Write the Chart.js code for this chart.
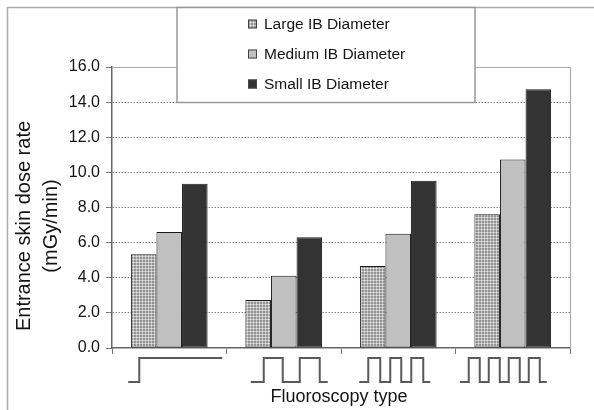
<!DOCTYPE html>
<html>
<head>
<meta charset="utf-8">
<script src="https://cdn.jsdelivr.net/npm/chart.js@4"></script>
<style>
  html, body { margin: 0; padding: 0; background: #fff; }
</style>
</head>
<body>
<canvas id="chart" width="594" height="410"></canvas>
<script>
// values (mGy/min)
const categories = ['Continuous', 'Pulsed x2', 'Pulsed x3', 'Pulsed x4'];
const seriesLabels = ['Large IB Diameter', 'Medium IB Diameter', 'Small IB Diameter'];
const largeIB = [5.34, 2.73, 4.67, 7.62];
const mediumIB = [6.61, 4.11, 6.51, 10.74];
const smallIB = [9.35, 6.31, 9.53, 14.73];
const yMin = 0, yMax = 16, yStep = 2;

// waveform icons under each category, offsets from the category centre
const waveforms = [
    { start: -41, edges: [-30], end: 53 },
    { start: -33, edges: [-20, -1, 16, 36], end: 44 },
    { start: -39, edges: [-30, -18, -8, 3, 13, 25], end: 32 },
    { start: -53, edges: [-44, -33, -24, -13, -4, 7, 16, 27], end: 34 }
];

function dotPattern() {
    const c = document.createElement('canvas');
    c.width = 3; c.height = 3;
    const g = c.getContext('2d');
    g.fillStyle = '#939393';
    g.fillRect(0, 0, 3, 3);
    g.fillStyle = '#c6c6c6';
    g.fillRect(1, 0, 1, 3);
    g.fillRect(0, 1, 3, 1);
    g.fillStyle = '#e6e6e6';
    g.fillRect(1, 1, 1, 1);
    return g.createPattern(c, 'repeat');
}

const FONT = '"Liberation Sans", Arial, sans-serif';
const TEXT = '#141414';
const largeFill = dotPattern();

const decorPlugin = {
    id: 'decor',
    beforeDraw(chart) {
        const ctx = chart.ctx;
        ctx.save();
        ctx.fillStyle = '#fff';
        ctx.fillRect(0, 0, chart.width, chart.height);
        ctx.restore();
    },
    afterDraw(chart) {
        const ctx = chart.ctx;
        const area = chart.chartArea;
        const x = chart.scales.x;
        ctx.save();

        // outer frame (left + top)
        ctx.strokeStyle = '#aaa';
        ctx.lineWidth = 1.5;
        ctx.beginPath();
        ctx.moveTo(7.5, chart.height);
        ctx.lineTo(7.5, 7.5);
        ctx.lineTo(chart.width, 7.5);
        ctx.stroke();

        // plot frame top + right
        ctx.strokeStyle = '#aaa';
        ctx.lineWidth = 1.2;
        ctx.beginPath();
        ctx.moveTo(area.left, area.top + 0.5);
        ctx.lineTo(area.right + 0.5, area.top + 0.5);
        ctx.lineTo(area.right + 0.5, area.bottom);
        ctx.stroke();

        // legend box
        ctx.fillStyle = '#fff';
        ctx.fillRect(177, 7.5, 298, 95);
        ctx.strokeStyle = '#999';
        ctx.lineWidth = 1.5;
        ctx.strokeRect(177, 7.5, 298, 95);
        ctx.font = '15.5px ' + FONT;
        ctx.textBaseline = 'middle';
        ctx.textAlign = 'left';
        chart.data.datasets.forEach((ds, i) => {
            const cy = 24 + i * 30;
            ctx.fillStyle = ds.backgroundColor;
            ctx.fillRect(248, cy - 4.5, 9, 9);
            ctx.strokeStyle = '#444';
            ctx.lineWidth = 1;
            ctx.strokeRect(248.5, cy - 4, 8, 8);
            ctx.fillStyle = TEXT;
            ctx.fillText(ds.label, 264, cy + 1);
        });

        // waveform icons as category labels
        ctx.strokeStyle = '#5a5a5a';
        ctx.lineWidth = 2;
        const hi = 358, lo = 382;
        waveforms.forEach((w, i) => {
            const cx = x.getPixelForValue(i);
            let level = lo;
            ctx.beginPath();
            ctx.moveTo(cx + w.start, level);
            w.edges.forEach(e => {
                ctx.lineTo(cx + e, level);
                level = level === lo ? hi : lo;
                ctx.lineTo(cx + e, level);
            });
            ctx.lineTo(cx + w.end, level);
            ctx.stroke();
        });

        // axis titles
        ctx.fillStyle = TEXT;
        ctx.textAlign = 'center';
        ctx.textBaseline = 'middle';
        ctx.font = '18px ' + FONT;
        ctx.fillText('Fluoroscopy type', (area.left + area.right) / 2 - 2, 397);

        ctx.font = '20px ' + FONT;
        ctx.translate(24, 226);
        ctx.rotate(-Math.PI / 2);
        ctx.fillText('Entrance skin dose rate', 0, 0);
        ctx.fillText('(mGy/min)', 0, 27);
        ctx.restore();
    }
};

new Chart(document.getElementById('chart'), {
    type: 'bar',
    data: {
        labels: categories,
        datasets: [
            { label: seriesLabels[0], data: largeIB, backgroundColor: largeFill },
            { label: seriesLabels[1], data: mediumIB, backgroundColor: '#c0c0c0' },
            { label: seriesLabels[2], data: smallIB, backgroundColor: '#333333' }
        ].map(d => Object.assign(d, { borderColor: '#1a1a1a', borderWidth: 1, borderSkipped: false }))
    },
    options: {
        responsive: false,
        animation: false,
        events: [],
        layout: { padding: { left: 0, top: 67, right: 24, bottom: 0 } },
        datasets: { bar: { categoryPercentage: 0.67, barPercentage: 1 } },
        plugins: {
            legend: { display: false },
            tooltip: { enabled: false }
        },
        scales: {
            x: {
                ticks: { display: false },
                grid: {
                    offset: true,
                    drawOnChartArea: false,
                    drawTicks: true,
                    tickLength: 6,
                    tickColor: '#777',
                    color: '#777'
                },
                border: { color: '#666', width: 1.5 },
                afterFit(scale) { scale.height = 62; }
            },
            y: {
                min: yMin,
                max: yMax,
                ticks: {
                    stepSize: yStep,
                    padding: 6,
                    color: TEXT,
                    font: { family: FONT, size: 16 },
                    callback: v => v.toFixed(1)
                },
                grid: {
                    tickLength: 6,
                    tickColor: '#777',
                    lineWidth: 1,
                    color: c => (c.tick && (c.tick.value === yMin || c.tick.value === yMax)) ? 'rgba(0,0,0,0)' : '#888'
                },
                border: { color: '#666', width: 1.5, dash: [1.5, 1.5] },
                afterFit(scale) { scale.width = 112; }
            }
        }
    },
    plugins: [decorPlugin]
});
</script>
</body>
</html>
